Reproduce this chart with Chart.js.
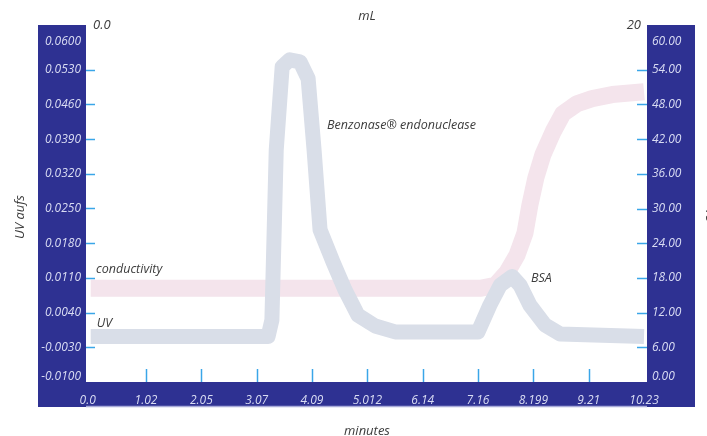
<!DOCTYPE html>
<html><head><meta charset="utf-8">
<script src="https://cdn.jsdelivr.net/npm/chart.js@4.4.1/dist/chart.umd.min.js"></script>
<style>html,body{margin:0;padding:0;background:#fff;overflow:hidden}#wrap{width:707px;height:436px;position:relative}</style>
</head><body><div id="wrap"><canvas id="c" width="707" height="436"></canvas></div>
<script>
// ---- data ----
const xTickLabels = ['0.0','1.02','2.05','3.07','4.09','5.012','6.14','7.16','8.199','9.21','10.23'];
const uvTickLabels = ['-0.0100','-0.0030','0.0040','0.0110','0.0180','0.0250','0.0320','0.0390','0.0460','0.0530','0.0600'];
const condTickLabels = ['0.00','6.00','12.00','18.00','24.00','30.00','36.00','42.00','48.00','54.00','60.00'];
const mlTickLabels = ['0.0','20'];

const uvTimes  = [0, 3.28, 3.35, 3.43, 3.54, 3.68, 3.87, 4.02, 4.13, 4.24, 4.48, 4.70, 4.94, 5.26, 5.63, 7.16, 7.38, 7.57, 7.79, 7.94, 8.12, 8.40, 8.68, 10.23];
const uvValues = [-0.0008, -0.0008, 0.0025, 0.0368, 0.0536, 0.0550, 0.0546, 0.0512, 0.0368, 0.0207, 0.0142, 0.0086, 0.0035, 0.0013, 0.0001, 0.0001, 0.0055, 0.0095, 0.0113, 0.0095, 0.0055, 0.0015, -0.0003, -0.0008];

const condTimes  = [0, 7.20, 7.48, 7.70, 7.88, 8.03, 8.12, 8.23, 8.36, 8.55, 8.73, 8.99, 9.27, 9.64, 10.23];
const condValues = [16.2, 16.2, 16.7, 19.0, 21.9, 25.8, 30.6, 35.3, 39.3, 43.3, 46.4, 48.1, 49.0, 49.7, 50.2];

const annotations = [
  {text:'Benzonase\u00AE endonuclease', x:4.37, y:0.0417, axis:'y'},
  {text:'conductivity', x:0.10, y:19.5, axis:'y2'},
  {text:'UV', x:0.11, y:0.00185, axis:'y'},
  {text:'BSA', x:8.14, y:0.0109, axis:'y'}
];
const titles = {left:'UV aufs', right:'mS/cm', top:'mL', bottom:'minutes'};

// ---- style ----
const FONT = "'Open Sans', 'DejaVu Sans', sans-serif";
const PANEL = '#2e3192';
const TICK_COLOR = '#3aa6e8';
const LABEL_COLOR = '#d9dcf3';
const TEXT_COLOR = '#3c3c3c';

const xStep = 10.23 / 10;
const uvStep = 0.007;
const condStep = 6;

const decor = {
  id: 'decor',
  beforeDraw(chart) {
    const {ctx, chartArea: ca} = chart;
    ctx.save();
    ctx.fillStyle = '#fff';
    ctx.fillRect(0, 0, chart.width, chart.height);
    ctx.fillStyle = PANEL;
    ctx.fillRect(38, 25, ca.left - 38, 407 - 25);
    ctx.fillRect(ca.right, 25, 695 - ca.right, 407 - 25);
    ctx.fillRect(ca.left, ca.bottom, ca.right - ca.left, 407 - ca.bottom);
    ctx.strokeStyle = '#a9abd9';
    ctx.lineWidth = 1.5;
    ctx.beginPath(); ctx.moveTo(ca.left, 406.5); ctx.lineTo(ca.right, 406.5); ctx.stroke();
    ctx.restore();
  },
  afterDatasetsDraw(chart) {
    const {ctx, scales} = chart;
    ctx.save();
    ctx.font = 'italic 12.5px ' + FONT;
    ctx.fillStyle = TEXT_COLOR;
    ctx.textAlign = 'left';
    ctx.textBaseline = 'middle';
    annotations.forEach(a => {
      ctx.fillText(a.text, scales.x.getPixelForValue(a.x), scales[a.axis].getPixelForValue(a.y));
    });
    ctx.restore();
  },
  afterDraw(chart) {
    const {ctx, chartArea: ca, scales} = chart;
    ctx.save();
    // tick marks
    ctx.strokeStyle = TICK_COLOR;
    ctx.lineWidth = 1.5;
    for (let i = 1; i < uvTickLabels.length - 1; i++) {
      const y = Math.round(scales.y.getPixelForValue(-0.01 + i * uvStep)) + 0.5;
      ctx.beginPath(); ctx.moveTo(ca.left, y); ctx.lineTo(ca.left + 9, y); ctx.stroke();
      const y2 = Math.round(scales.y2.getPixelForValue(i * condStep)) + 0.5;
      ctx.beginPath(); ctx.moveTo(ca.right - 10, y2); ctx.lineTo(ca.right, y2); ctx.stroke();
    }
    for (let i = 1; i < xTickLabels.length - 1; i++) {
      const x = Math.round(scales.x.getPixelForValue(i * xStep)) + 0.5;
      ctx.beginPath(); ctx.moveTo(x, ca.bottom - 13); ctx.lineTo(x, ca.bottom); ctx.stroke();
    }
    // tick labels
    ctx.font = 'italic 12px ' + FONT;
    ctx.fillStyle = LABEL_COLOR;
    ctx.textBaseline = 'middle';
    const clampY = v => Math.min(377, Math.max(42, v));
    ctx.textAlign = 'right';
    uvTickLabels.forEach((t, i) => {
      ctx.fillText(t, 81, clampY(scales.y.getPixelForValue(-0.01 + i * uvStep)));
    });
    ctx.textAlign = 'left';
    condTickLabels.forEach((t, i) => {
      ctx.fillText(t, 652, clampY(scales.y2.getPixelForValue(i * condStep)));
    });
    ctx.textAlign = 'center';
    xTickLabels.forEach((t, i) => {
      ctx.fillText(t, scales.x.getPixelForValue(i * xStep) - (i === 0 ? 3 : 0), 401);
    });
    // mL scale labels
    ctx.font = 'italic 13px ' + FONT;
    ctx.fillStyle = TEXT_COLOR;
    ctx.textAlign = 'left';
    ctx.fillText(mlTickLabels[0], 93, 25);
    ctx.textAlign = 'right';
    ctx.fillText(mlTickLabels[1], 641, 25);
    // titles
    ctx.font = 'italic 13px ' + FONT;
    ctx.textAlign = 'center';
    ctx.fillText(titles.top, 367, 16);
    ctx.fillText(titles.bottom, 367, 431);
    ctx.save();
    ctx.translate(20, 217); ctx.rotate(-Math.PI / 2);
    ctx.fillText(titles.left, 0, 0);
    ctx.restore();
    ctx.save();
    ctx.translate(711, 214); ctx.rotate(-Math.PI / 2);
    ctx.fillText(titles.right, 0, 0);
    ctx.restore();
    ctx.restore();
  }
};

const toPts = (xs, ys) => xs.map((x, i) => ({x, y: ys[i]}));

new Chart(document.getElementById('c'), {
  type: 'line',
  data: {
    datasets: [
      {label: 'UV', data: toPts(uvTimes, uvValues), yAxisID: 'y', borderColor: '#d9dee8', borderWidth: 15, pointRadius: 0, tension: 0, borderJoinStyle: 'round', order: 1},
      {label: 'conductivity', data: toPts(condTimes, condValues), yAxisID: 'y2', borderColor: '#f4e4ec', borderWidth: 17, pointRadius: 0, tension: 0, borderJoinStyle: 'round', order: 2}
    ]
  },
  options: {
    responsive: false,
    animation: false,
    devicePixelRatio: 1,
    layout: {padding: {left: 38, right: 12, top: 35, bottom: 28}},
    plugins: {legend: {display: false}, tooltip: {enabled: false}},
    scales: {
      x: {type: 'linear', min: -0.087, max: 10.285, grid: {display: false}, border: {display: false},
          ticks: {display: false}, afterFit: s => { s.height = 26; }},
      y: {type: 'linear', position: 'left', min: -0.01, max: 0.06, grid: {display: false}, border: {display: false},
          ticks: {display: false}, afterFit: s => { s.width = 48; }},
      y2: {type: 'linear', position: 'right', min: 0, max: 60, grid: {display: false}, border: {display: false},
          ticks: {display: false}, afterFit: s => { s.width = 48; }}
    }
  },
  plugins: [decor]
});
</script>
</body></html>
